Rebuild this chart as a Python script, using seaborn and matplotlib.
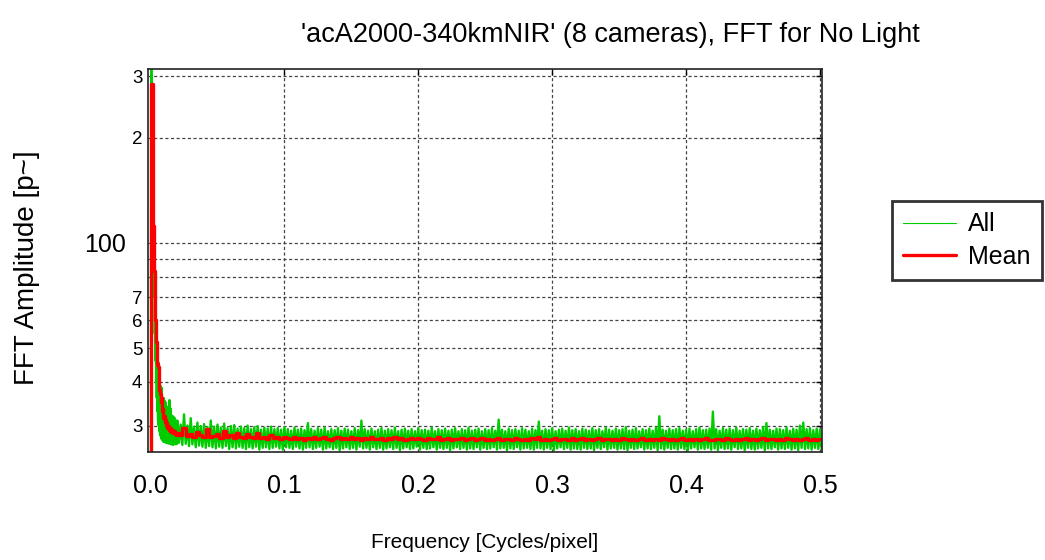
import matplotlib
matplotlib.use("Agg")
import matplotlib.pyplot as plt
from matplotlib.ticker import FixedLocator, NullLocator
import seaborn as sb
import numpy as np

# Values.
# head: first 41 FFT bins (step 1/2048), tail: 0.02 .. 0.5 (step 0.0025)
head_step = 1.0 / 2048

mean_head = [5, 285, 285, 285, 112, 112, 83, 70, 60, 52, 48, 45, 44, 40, 38, 37, 35, 36, 33, 33.5,
             31.5, 32, 30.8, 31.2, 30.2, 30.6, 29.6, 30.0, 29.8, 29.2, 29.0, 29.5, 28.8, 29.1, 29.2,
             28.6, 28.5, 28.9, 28.3, 28.6, 28.2]
all_hi_head = [5, 330, 300, 200, 135, 95, 80, 68, 58, 52, 48, 46, 45.5, 42, 40, 39, 38, 38.5, 36, 35,
               36, 35.5, 34, 35, 33, 34, 32.5, 33, 32, 35.5, 32, 33.5, 31.5, 32, 31, 31.8, 30.8, 31.5,
               30.5, 31, 30.5]
all_lo_head = [5, 260, 240, 150, 95, 70, 55, 46, 40, 36, 33, 31, 30, 29, 28.5, 28, 27.5, 27.6, 27.2,
               27.0, 27.3, 26.9, 27.1, 26.8, 27.0, 26.7, 27.1, 26.9, 26.6, 27.0, 26.8, 26.5, 26.9, 26.7,
               26.4, 26.8, 26.6, 26.9, 26.5, 26.7, 26.6]

mean_tail = [28.6, 28.2, 29.6, 28.0, 28.4, 27.9, 28.8, 28.1, 27.8, 29.3,
             27.9, 28.0, 28.4, 27.7, 29.0, 27.8, 28.1, 27.6, 28.6, 27.9,
             27.7, 28.3, 27.8, 27.6, 28.5, 27.7, 27.9, 27.5, 28.2, 27.6,
             27.8, 27.5, 27.9, 27.6, 27.4, 27.8, 27.5, 27.7, 27.3, 27.6,
             27.5, 27.8, 27.4, 27.6, 27.9, 27.5, 27.3, 27.6, 27.8, 27.4,
             27.6, 27.5, 27.9, 27.4, 27.6, 27.3, 27.7, 27.5, 27.8, 27.4,
             27.5, 27.7, 27.3, 27.6, 27.5, 27.8, 27.4, 27.6, 27.3, 27.5,
             27.7, 27.4, 27.6, 27.5, 27.3, 27.7, 27.5, 27.4, 27.8, 27.3,
             27.5, 27.6, 27.3, 27.5, 27.4, 27.7, 27.3, 27.5, 27.6, 27.2,
             27.4, 27.6, 27.3, 27.5, 27.2, 27.4, 27.6, 27.3, 27.5, 27.4,
             27.3, 27.6, 27.4, 27.2, 27.5, 27.3, 27.6, 27.4, 27.8, 27.3,
             27.5, 27.2, 27.4, 27.6, 27.3, 27.5, 27.4, 27.2, 27.6, 27.3,
             27.4, 27.7, 27.3, 27.5, 27.2, 27.4, 27.6, 27.3, 27.5, 27.4,
             27.2, 27.5, 27.3, 27.6, 27.4, 27.3, 27.5, 27.2, 27.4, 27.6,
             27.3, 27.5, 27.2, 27.4, 27.3, 27.6, 27.4, 27.2, 27.5, 27.3,
             27.4, 27.6, 27.3, 27.5, 27.2, 27.4, 27.3, 27.5, 27.6, 27.3,
             27.2, 27.4, 27.5, 27.3, 27.6, 27.4, 27.2, 27.5, 27.3, 27.4,
             27.6, 27.3, 27.5, 27.2, 27.4, 27.7, 27.3, 27.5, 27.4, 27.2,
             27.5, 27.3, 27.6, 27.4, 27.2, 27.5, 27.3, 27.4, 27.6, 27.3,
             27.5, 27.2, 27.4]

all_hi_tail = [31.0, 30.2, 32.3, 30.0, 31.5, 29.8, 30.6, 29.9, 30.3, 29.7,
               31.0, 29.8, 30.2, 29.6, 30.4, 29.5, 29.9, 30.1, 29.4, 29.8,
               29.5, 30.0, 29.3, 29.7, 29.9, 29.2, 29.6, 29.4, 29.8, 29.3,
               29.5, 29.2, 29.7, 29.3, 29.0, 29.6, 29.2, 29.4, 29.1, 30.5,
               29.3, 29.0, 29.5, 29.2, 29.6, 28.9, 29.3, 29.1, 29.5, 29.0,
               29.4, 29.2, 28.9, 29.5, 29.1, 31.0, 29.3, 29.0, 29.4, 28.9,
               29.2, 29.5, 29.0, 29.3, 29.1, 29.6, 28.9, 29.2, 29.4, 29.0,
               29.3, 28.9, 29.5, 29.1, 29.2, 29.0, 29.6, 28.9, 29.3, 29.1,
               29.4, 29.0, 29.2, 29.5, 28.9, 29.3, 29.1, 29.6, 29.0, 29.2,
               29.4, 28.9, 29.3, 29.1, 29.5, 29.0, 31.2, 29.2, 28.9, 29.4,
               29.1, 29.3, 29.0, 29.5, 29.2, 28.9, 29.4, 29.1, 30.8, 29.0,
               29.3, 29.1, 29.5, 28.9, 29.2, 29.4, 29.0, 29.6, 29.1, 29.3,
               28.9, 29.4, 29.2, 29.0, 29.5, 29.1, 29.3, 28.9, 29.6, 29.2,
               29.0, 29.4, 29.1, 29.3, 29.7, 29.0, 29.2, 29.5, 28.9, 29.3,
               29.1, 29.4, 29.0, 29.6, 31.9, 29.2, 29.0, 29.4, 29.1, 29.3,
               29.5, 29.0, 29.2, 29.4, 28.9, 29.3, 29.6, 29.1, 29.2, 29.4,
               32.9, 29.3, 29.0, 29.5, 29.2, 29.4, 29.1, 29.6, 29.0, 29.3,
               29.2, 29.5, 29.0, 29.4, 29.1, 29.7, 30.5, 29.2, 29.0, 29.4,
               29.3, 29.1, 29.6, 29.0, 29.4, 29.2, 30.0, 30.6, 29.3, 29.5,
               29.1, 29.4, 29.2]

all_lo_tail = [26.8, 26.4, 26.6, 26.2, 26.5, 26.0, 26.3, 26.1, 25.9, 26.2,
               26.0, 25.8, 26.1, 25.9, 26.2, 25.7, 26.0, 25.8, 26.1, 25.9,
               25.7, 26.0, 25.8, 26.1, 25.6, 25.9, 26.0, 25.7, 25.9, 26.1,
               25.8, 25.6, 26.0, 25.9, 25.7, 26.1, 25.8, 25.6, 25.9, 26.0,
               25.7, 25.9, 26.1, 25.6, 25.8, 26.0, 25.7, 25.9, 25.5, 25.8,
               26.0, 25.7, 25.9, 25.6, 26.1, 25.8, 25.9, 25.6, 26.0, 25.7,
               25.9, 25.6, 25.8, 26.0, 25.7, 25.9, 25.5, 25.8, 26.0, 25.7,
               25.8, 26.1, 25.6, 25.9, 25.7, 25.8, 26.0, 25.6, 25.9, 25.7,
               25.9, 25.5, 25.8, 26.0, 25.7, 25.9, 25.6, 25.8, 25.7, 26.0,
               25.6, 25.9, 25.7, 25.8, 26.0, 25.6, 25.8, 25.9, 25.5, 25.8,
               25.7, 26.0, 25.6, 25.8, 25.9, 25.7, 25.6, 25.9, 25.8, 25.6,
               25.9, 25.7, 25.5, 25.8, 26.0, 25.7, 25.9, 25.6, 25.8, 25.7,
               25.6, 25.9, 25.7, 25.8, 25.5, 25.9, 25.7, 26.0, 25.6, 25.8,
               25.9, 25.6, 25.8, 25.7, 25.5, 25.9, 25.7, 25.8, 26.0, 25.6,
               25.8, 25.7, 25.9, 25.5, 25.8, 25.6, 25.9, 25.7, 25.8, 25.6,
               25.9, 25.7, 25.5, 25.8, 26.0, 25.6, 25.8, 25.7, 25.9, 25.6,
               25.8, 25.5, 25.9, 25.7, 25.8, 25.6, 26.0, 25.7, 25.8, 25.5,
               25.9, 25.7, 25.6, 25.8, 25.9, 25.5, 25.8, 25.7, 26.0, 25.6,
               25.8, 25.7, 25.9, 25.6, 25.8, 25.5, 25.9, 25.7, 25.8, 25.6,
               25.9, 25.7, 25.8]

ytick_vals = [30, 40, 50, 60, 70, 80, 90, 100, 200, 300]
ytick_labels = ["3", "4", "5", "6", "7", "", "", "100", "2", "3"]
xtick_vals = [0.0, 0.1, 0.2, 0.3, 0.4, 0.5]

title = "'acA2000-340kmNIR' (8 cameras), FFT for No Light"

# frequency grid
f_head = np.arange(len(mean_head)) * head_step
f_tail = np.linspace(0.02, 0.5, len(mean_tail))
freq = np.concatenate([f_head, f_tail])
mean = np.concatenate([mean_head, mean_tail])

# "All": upper and lower camera traces interleaved into one trace
all_hi = np.concatenate([all_hi_head, all_hi_tail])
all_lo = np.concatenate([all_lo_head, all_lo_tail])
f_lo = np.concatenate([f_head + head_step / 2, f_tail + 0.00125])
f_all = np.concatenate([freq, f_lo])
y_all = np.concatenate([all_hi, all_lo])
order = np.argsort(f_all, kind="stable")
f_all, y_all = f_all[order], y_all[order]

sb.set_style("white")
plt.rcParams["font.family"] = ["Liberation Sans", "DejaVu Sans"]
plt.rcParams["text.color"] = "black"
plt.rcParams["xtick.color"] = "black"
plt.rcParams["ytick.color"] = "black"

fig = plt.figure(figsize=(10.45, 5.6), dpi=100)
ax = fig.add_axes([148 / 1045, 1 - 452 / 560, (822 - 148) / 1045, (452 - 69) / 560])

green = "#00cc00"
sb.lineplot(x=f_all, y=y_all, ax=ax, color=green, linewidth=1.7, sort=False,
            estimator=None, label="All")
sb.lineplot(x=freq, y=mean, ax=ax, color="#ff0000", linewidth=2.4, sort=False,
            estimator=None, drawstyle="steps-mid", label="Mean")

ax.set_yscale("log")
ax.set_ylim(25.2, 315)
ax.set_xlim(-0.0019, 0.5015)

ax.yaxis.set_major_locator(FixedLocator(ytick_vals))
ax.yaxis.set_minor_locator(NullLocator())
ax.set_yticklabels(ytick_labels)
ax.set_xticks(xtick_vals)
ax.set_xticklabels(["%.1f" % v for v in xtick_vals])

ax.tick_params(axis="both", direction="in", length=4, width=1, colors="black",
               top=True, right=True, labelsize=18)
ax.tick_params(axis="x", pad=16)
ax.tick_params(axis="y", pad=4)
for t, lab in zip(ax.yaxis.get_major_ticks(), ytick_labels):
    if lab == "100":
        t.tick1line.set_markersize(14)
        t.label1.set_fontsize(18)
        t.set_pad(16)
    else:
        t.label1.set_fontsize(13.5)

ax.grid(True, which="major", color="#444444", linestyle=(0, (2.5, 2)), linewidth=0.9)
for s in ax.spines.values():
    s.set_color("#222222")
    s.set_linewidth(1.2)

ax.set_xlabel("")
ax.set_ylabel("")
handles, labels = ax.get_legend_handles_labels()
ax.get_legend().remove()

fig.text(610 / 1045, 1 - 35 / 560, title, ha="center", va="center", fontsize=19.5)
fig.text(485 / 1045, 1 - 543 / 560, "Frequency [Cycles/pixel]", ha="center", va="center",
         fontsize=15)
fig.text(27 / 1045, 1 - 268 / 560, "FFT Amplitude [p~]", ha="center", va="center",
         rotation=90, fontsize=20)

leg = fig.legend(handles, labels, loc="upper left", bbox_to_anchor=(892 / 1045, 1 - 201 / 560),
                 borderaxespad=0, fontsize=18, frameon=True, fancybox=False, handlelength=2.1,
                 handletextpad=0.5, borderpad=0.45, labelspacing=0.35)
leg.get_frame().set_edgecolor("black")
leg.get_frame().set_linewidth(2)
leg.legend_handles[0].set_linewidth(0.8)

fig.savefig("out.png", dpi=100)
